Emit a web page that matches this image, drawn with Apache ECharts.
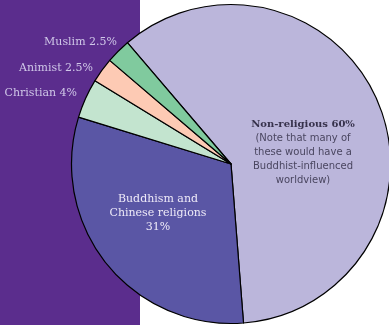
<!DOCTYPE html>
<html>
<head>
<meta charset="utf-8">
<script src="https://cdn.jsdelivr.net/npm/echarts@6/dist/echarts.min.js"></script>
<style>
  html, body { margin: 0; padding: 0; background: #fff; }
  #pie { width: 389px; height: 325px; }
</style>
</head>
<body>
<div id="pie"></div>
<script>
'use strict'
// religions in china, share of population (%)
var categories = ['Non-religious', 'Buddhism and Chinese religions', 'Christian', 'Animist', 'Muslim'];
var shares = [60, 31, 4, 2.5, 2.5];
var sliceColors = ['#bbb6db', '#5a56a5', '#c3e4cf', '#fdcab4', '#80ca9e'];

// where each label sits
var labelSpots = [
    { x: 303, y: 152, align: 'center', verticalAlign: 'middle' },
    { x: 158, y: 213, align: 'center', verticalAlign: 'middle' },
    { x: 77, y: 93, align: 'right', verticalAlign: 'middle' },
    { x: 93, y: 68, align: 'right', verticalAlign: 'middle' },
    { x: 117, y: 42, align: 'right', verticalAlign: 'middle' }
];

var chart = echarts.init(document.getElementById('pie'));

var data = categories.map(function (name, i) {
    var item = { name: name, value: shares[i], itemStyle: { color: sliceColors[i] } };
    if (i === 0) {
        item.label = {
            position: 'inside',
            formatter: '{b|Non-religious ' + shares[i] + '%}\n{n|(Note that many of}\n{n|these would have a}\n{n|Buddhist-influenced}\n{n|worldview)}',
            rich: {
                b: { fontFamily: 'DejaVu Serif', fontWeight: 'bold', fontSize: 10, color: '#37324c', lineHeight: 14, align: 'center' },
                n: { fontFamily: 'DejaVu Sans', fontSize: 10, color: '#4a4660', lineHeight: 14, align: 'center' }
            }
        };
    } else if (i === 1) {
        item.label = {
            position: 'inside',
            formatter: 'Buddhism and\nChinese religions\n' + shares[i] + '%',
            fontFamily: 'DejaVu Serif',
            fontSize: 11,
            lineHeight: 14,
            color: '#eeeaf8',
            align: 'center'
        };
    } else {
        item.label = {
            position: 'outside',
            formatter: name + ' ' + shares[i] + '%',
            fontFamily: 'DejaVu Serif',
            fontSize: 11,
            color: '#d0c8e8'
        };
    }
    return item;
});

var option = {
    animation: false,
    graphic: [{
        type: 'rect',
        z: -1,
        shape: { x: 0, y: 0, width: 140, height: 325 },
        style: { fill: '#5b2d8d' }
    }],
    series: [{
        type: 'pie',
        center: [231, 164],
        radius: 159.5,
        startAngle: 130.5,
        clockwise: true,
        avoidLabelOverlap: false,
        itemStyle: { borderColor: '#000', borderWidth: 1.2 },
        labelLine: { show: false },
        emphasis: { disabled: true },
        labelLayout: function (params) {
            return labelSpots[params.dataIndex];
        },
        data: data
    }]
};
chart.setOption(option);
</script>
</body>
</html>
